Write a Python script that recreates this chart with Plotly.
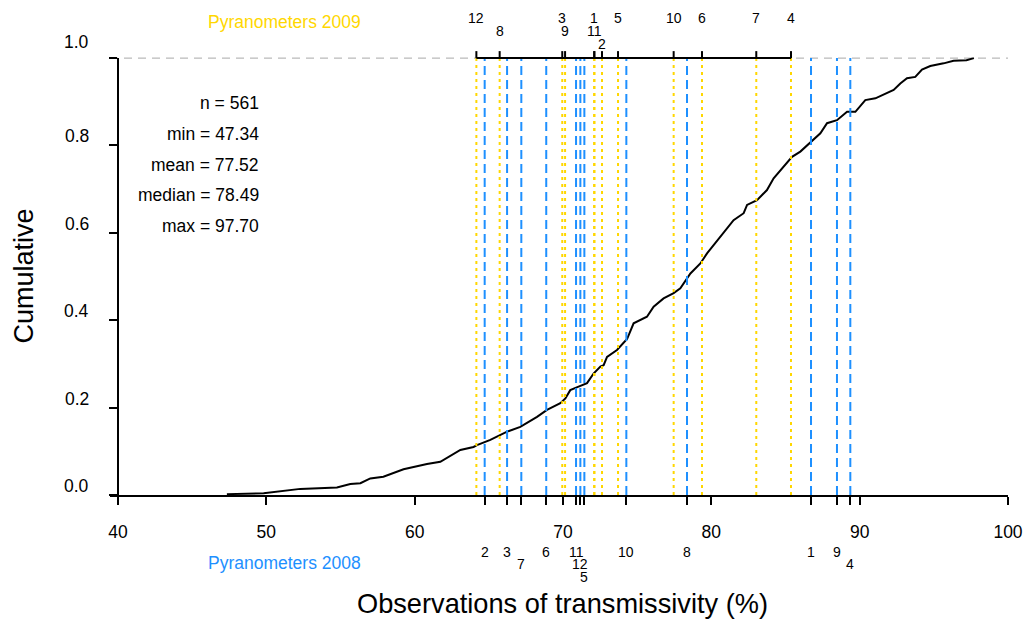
import plotly.graph_objects as go

# ---------------- data ----------------
ecdf_x = [47.34, 49.82, 52.29, 54.76, 55.66, 56.34, 57.01, 57.89, 59.25, 60.83,
          61.73, 63.08, 63.97, 64.20, 65.10, 66.23, 67.12, 68.25, 68.92, 69.82,
          70.16, 70.49, 71.05, 71.62, 72.06, 72.52, 72.74, 72.97, 73.64, 74.32,
          74.76, 75.66, 76.11, 76.78, 77.46, 77.91, 78.59, 79.26, 79.71, 80.61,
          81.50, 82.18, 82.41, 83.08, 83.75, 84.20, 85.10, 85.44, 86.00, 86.67,
          87.35, 87.80, 88.47, 89.15, 89.71, 90.38, 91.06, 92.29, 92.74, 93.19,
          93.75, 94.20, 94.76, 95.66, 96.33, 97.20, 97.70]
ecdf_y = [0.002, 0.004, 0.014, 0.017, 0.025, 0.027, 0.038, 0.042, 0.059, 0.071,
          0.076, 0.103, 0.110, 0.114, 0.126, 0.145, 0.156, 0.179, 0.195, 0.210,
          0.221, 0.240, 0.248, 0.256, 0.278, 0.294, 0.297, 0.316, 0.332, 0.357,
          0.393, 0.408, 0.431, 0.450, 0.462, 0.473, 0.507, 0.530, 0.553, 0.591,
          0.629, 0.645, 0.664, 0.675, 0.698, 0.725, 0.759, 0.774, 0.786, 0.808,
          0.828, 0.851, 0.858, 0.877, 0.877, 0.904, 0.908, 0.927, 0.942, 0.954,
          0.957, 0.974, 0.982, 0.988, 0.994, 0.995, 1.000]

pyr_ids = ["1", "2", "3", "4", "5", "6", "7", "8", "9", "10", "11", "12"]
pyr2009_vals = [72.10, 72.63, 69.95, 85.37, 73.71, 79.37, 83.03, 65.73, 70.14, 77.46, 72.12, 64.16]
pyr2008_vals = [86.72, 64.72, 66.23, 89.37, 71.44, 68.87, 67.19, 78.36, 88.47, 74.27, 70.88, 71.17]

x_ticks = [40, 50, 60, 70, 80, 90, 100]
y_ticks = [0.0, 0.2, 0.4, 0.6, 0.8, 1.0]

stats_names = ["n", "min", "mean", "median", "max"]
stats_values = ["561", "47.34", "77.52", "78.49", "97.70"]

# ---------------- layout helpers ----------------
W, H = 1025, 621
L, R, T, B = 118, 17, 45, 126
PW, PH = W - L - R, H - T - B
FONT = "Liberation Sans, Arial, sans-serif"
GOLD = "#FFD700"
BLUE = "#1E90FF"


def px_x(px):
    return (px - L) / PW


def px_y(py):
    return (H - B - py) / PH


# label row (stagger level) for each pyranometer id
row2009 = {"12": 0, "8": 1, "3": 0, "9": 1, "1": 0, "11": 1, "2": 2, "5": 0,
           "10": 0, "6": 0, "7": 0, "4": 0}
row2008 = {"2": 0, "3": 0, "7": 1, "6": 0, "11": 0, "12": 1, "5": 2, "10": 0,
           "8": 0, "1": 0, "9": 0, "4": 1}
top_rows_px = [18.5, 31.2, 44.0]
bot_rows_px = [551.7, 564.3, 577.3]

fig = go.Figure()

# ECDF curve
fig.add_trace(go.Scatter(x=ecdf_x, y=ecdf_y, mode="lines",
                         line=dict(color="black", width=2), hoverinfo="skip"))

# vertical lines 2009 (dotted gold)
vx, vy = [], []
for v in pyr2009_vals:
    vx += [v, v, None]
    vy += [0, 1, None]
fig.add_trace(go.Scatter(x=vx, y=vy, mode="lines",
                         line=dict(color=GOLD, width=2, dash="3px,4px"), hoverinfo="skip"))

# vertical lines 2008 (dashed blue)
bx, by = [], []
for v in pyr2008_vals:
    bx += [v, v, None]
    by += [0, 1, None]
fig.add_trace(go.Scatter(x=bx, y=by, mode="lines",
                         line=dict(color=BLUE, width=2, dash="9px,5px"), hoverinfo="skip"))

shapes = []
# grey dashed line at 1.0
shapes.append(dict(type="line", xref="paper", yref="y", x0=px_x(110), x1=1.0, y0=1, y1=1,
                   line=dict(color="#A8A8A8", width=1, dash="8px,6px"), layer="below"))
# y axis line
shapes.append(dict(type="line", xref="paper", yref="paper", x0=0, x1=0,
                   y0=px_y(500), y1=px_y(H - B - 1.0 * (PH / 1.03)),
                   line=dict(color="black", width=2)))
# small extension of x axis line to the left
shapes.append(dict(type="line", xref="paper", yref="paper", x0=px_x(110), x1=0,
                   y0=px_y(496), y1=px_y(496), line=dict(color="black", width=2)))
# top axis for 2009 at y = 1
shapes.append(dict(type="line", xref="x", yref="y", x0=min(pyr2009_vals), x1=max(pyr2009_vals),
                   y0=1, y1=1, line=dict(color="black", width=2)))
for v in pyr2009_vals:
    shapes.append(dict(type="line", xref="x", yref="y", ysizemode="pixel", yanchor=1,
                       x0=v, x1=v, y0=0, y1=7, line=dict(color="black", width=2)))

annotations = []
# y tick labels (drawn slightly above the ticks)
for v in y_ticks:
    annotations.append(dict(x=px_x(76.7), xref="paper", y=v, yref="y", text=f"{v:.1f}",
                            showarrow=False, xanchor="center", yanchor="middle",
                            yshift=16 if v == 1.0 else 9,
                            font=dict(family=FONT, size=17.5, color="black")))
# 2009 labels
for pid, v in zip(pyr_ids, pyr2009_vals):
    annotations.append(dict(x=v, xref="x", y=px_y(top_rows_px[row2009[pid]]), yref="paper",
                            text=pid, showarrow=False, xanchor="center", yanchor="middle",
                            font=dict(family=FONT, size=14, color="black")))
# 2008 labels
for pid, v in zip(pyr_ids, pyr2008_vals):
    annotations.append(dict(x=v, xref="x", y=px_y(bot_rows_px[row2008[pid]]), yref="paper",
                            text=pid, showarrow=False, xanchor="center", yanchor="middle",
                            font=dict(family=FONT, size=14, color="black")))
# series names
annotations.append(dict(x=px_x(284.5), xref="paper", y=px_y(22), yref="paper",
                        text="Pyranometers 2009", showarrow=False, xanchor="center",
                        yanchor="middle", font=dict(family=FONT, size=17.5, color=GOLD)))
annotations.append(dict(x=px_x(284.5), xref="paper", y=px_y(563), yref="paper",
                        text="Pyranometers 2008", showarrow=False, xanchor="center",
                        yanchor="middle", font=dict(family=FONT, size=17.5, color=BLUE)))
# statistics
for i, (nm, val) in enumerate(zip(stats_names, stats_values)):
    annotations.append(dict(x=px_x(261), xref="paper", y=px_y(103.3 + i * 30.6), yref="paper",
                            text=f"{nm} = {val}", showarrow=False, xanchor="right",
                            yanchor="middle", font=dict(family=FONT, size=17.5, color="black")))
# axis titles
annotations.append(dict(x=px_x(562.7), xref="paper", y=px_y(603), yref="paper",
                        text="Observations of transmissivity (%)", showarrow=False,
                        xanchor="center", yanchor="middle",
                        font=dict(family=FONT, size=27.2, color="black")))
annotations.append(dict(x=px_x(23), xref="paper", y=px_y(276.5), yref="paper",
                        text="Cumulative", showarrow=False, textangle=-90,
                        xanchor="center", yanchor="middle",
                        font=dict(family=FONT, size=27, color="black")))

fig.update_layout(
    width=W, height=H,
    margin=dict(l=L, r=R, t=T, b=B, pad=0, autoexpand=False),
    paper_bgcolor="white", plot_bgcolor="white",
    showlegend=False,
    shapes=shapes, annotations=annotations,
    xaxis=dict(range=[40, 100], showgrid=False, zeroline=False, automargin=False,
               showline=True, linecolor="black", linewidth=2,
               ticks="outside", ticklen=8, tickwidth=2, tickcolor="black",
               tickvals=x_ticks + pyr2008_vals,
               ticktext=[str(t) for t in x_ticks] + [""] * len(pyr2008_vals),
               tickfont=dict(family=FONT, size=17.5, color="black"),
               ticklabelstandoff=12),
    yaxis=dict(range=[0, 1.03], showgrid=False, zeroline=False, showline=False,
               automargin=False,
               ticks="outside", ticklen=8, tickwidth=2, tickcolor="black",
               tickvals=y_ticks, showticklabels=False),
)

fig.write_html("out.html")
